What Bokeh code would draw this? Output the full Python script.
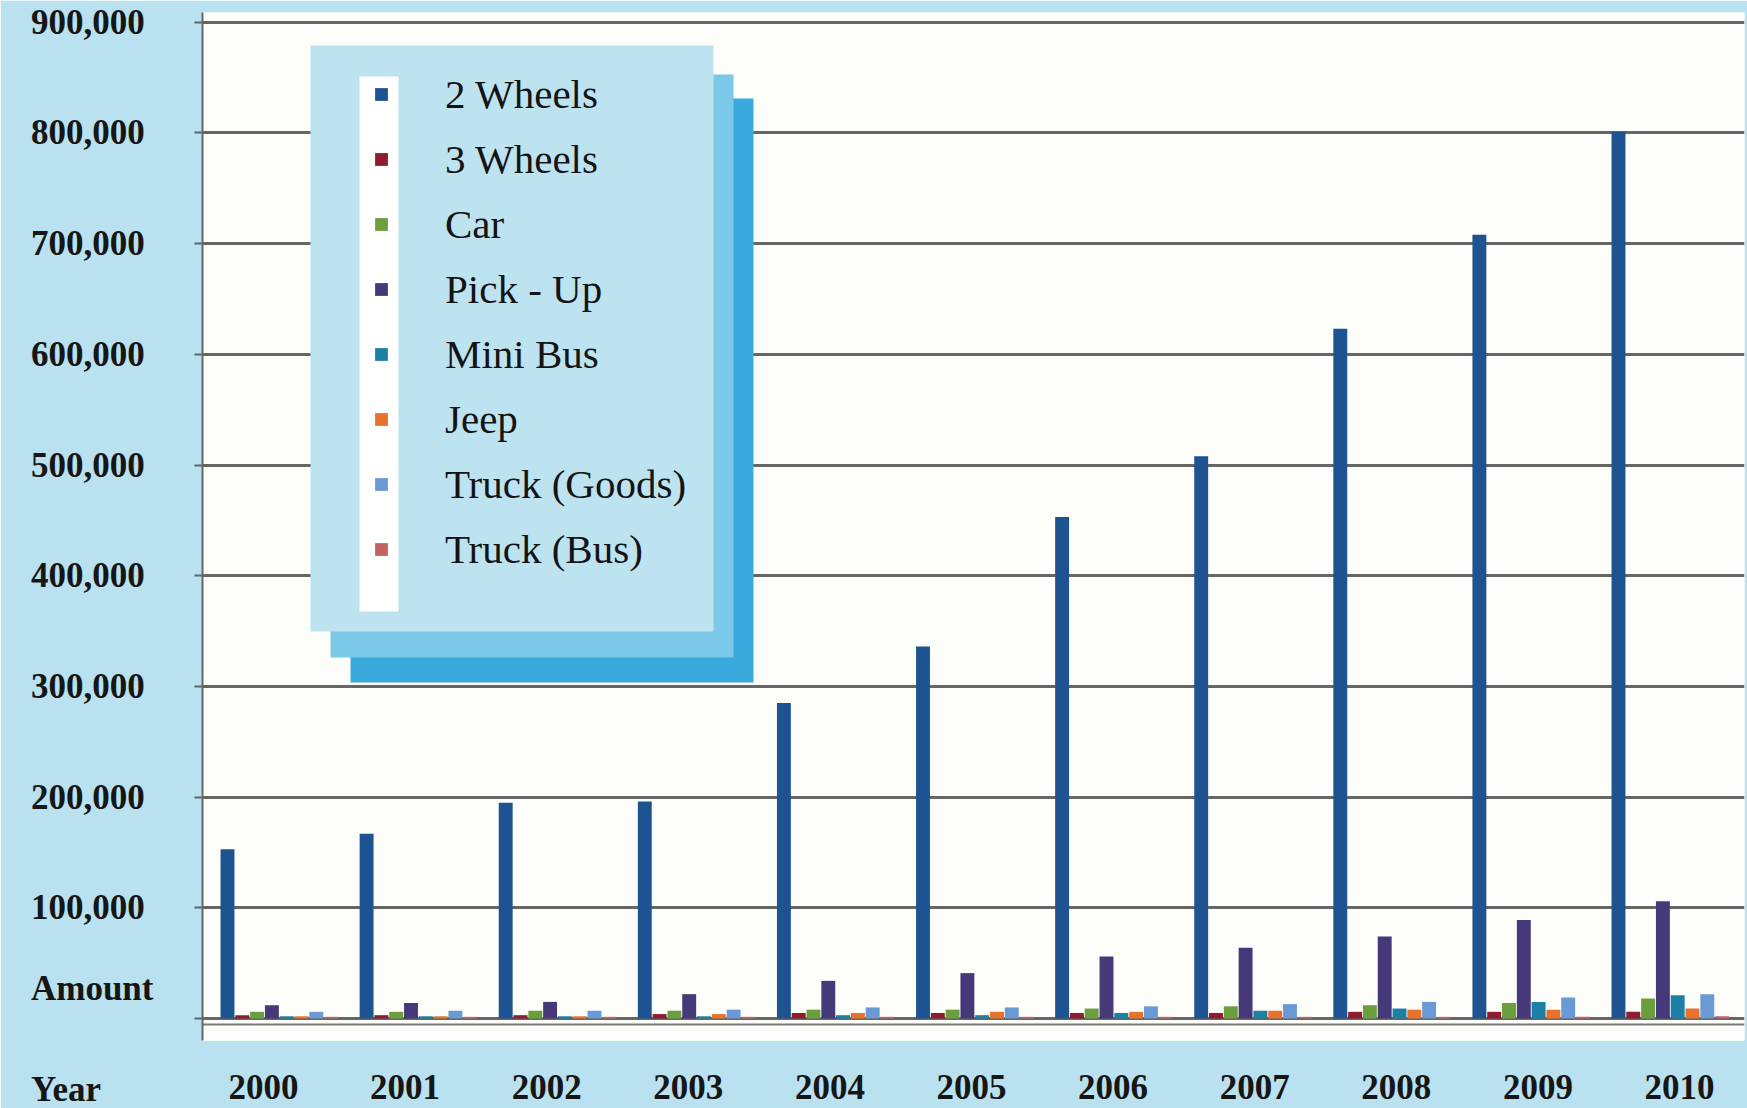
from bokeh.plotting import figure
from bokeh.models import (Range1d, LinearAxis, FixedTicker, Legend, LegendItem, BoxAnnotation, Span)
from bokeh.embed import file_html
from bokeh.resources import INLINE

# ---------------- data ----------------
years = ["2000", "2001", "2002", "2003", "2004", "2005", "2006", "2007", "2008", "2009", "2010"]
series_names = ["2 Wheels", "3 Wheels", "Car", "Pick - Up", "Mini Bus", "Jeep", "Truck (Goods)", "Truck (Bus)"]
two_wheels = [153000, 167000, 195000, 196000, 285000, 336000, 453000, 508000, 623000, 708000, 801000]
three_wheels = [3000, 3000, 3000, 4000, 5000, 5000, 5000, 5000, 6000, 6000, 6000]
car = [6000, 6000, 7000, 7000, 8000, 8000, 9000, 11000, 12000, 14000, 18000]
pick_up = [12000, 14000, 15000, 22000, 34000, 41000, 56000, 64000, 74000, 89000, 106000]
mini_bus = [2000, 2000, 2000, 2000, 3000, 3000, 5000, 7000, 9000, 15000, 21000]
jeep = [2000, 2000, 2000, 4000, 5000, 6000, 6000, 7000, 8000, 8000, 9000]
truck_goods = [6000, 7000, 7000, 8000, 10000, 10000, 11000, 13000, 15000, 19000, 22000]
truck_bus = [1500, 1500, 1500, 1500, 1500, 1500, 1500, 1500, 1500, 1500, 2000]
y_ticks = [0, 100000, 200000, 300000, 400000, 500000, 600000, 700000, 800000, 900000]
y_title = "Amount"
x_title = "Year"

series_values = [two_wheels, three_wheels, car, pick_up, mini_bus, jeep, truck_goods, truck_bus]
colors = ["#1d5390", "#8e1b2e", "#6b9e3c", "#45397a", "#1b7fa6", "#e8722c", "#6a9ad6", "#c26262"]

# ---------------- layout (canvas pixels) ----------------
W, H = 1747, 1108
FL, FR, FT, FB = 202, 1744, 12, 1040   # frame left / right / top / bottom
PX_GROUP = 139.1                       # px per year group
GROUP0 = 278.8                         # canvas x of first group centre
ZERO_Y = 1018.0                        # canvas y of value 0
PX_UNIT = 1.107 / 1000.0               # px per unit of value
LAB0, LAB_STEP = 263.0, 141.6          # year label centres (perspective)

x_start = (FL - GROUP0) / PX_GROUP
x_end = (FR - GROUP0) / PX_GROUP
y_end = (ZERO_Y - FT) / PX_UNIT
y_start = -(FB - ZERO_Y) / PX_UNIT


def dx(px):
    return (px - GROUP0) / PX_GROUP


def dy(py):
    return (ZERO_Y - py) / PX_UNIT


BG = "#b9e1ef"
GRID = "#666666"
SERIF = "Liberation Serif"
INK = "#161616"
NBSP = "\u00a0"

p = figure(width=W, height=H, x_range=Range1d(x_start, x_end), y_range=Range1d(y_start, y_end),
           output_backend="svg", toolbar_location=None, x_axis_type=None)
p.min_border_left = FL
p.min_border_right = W - FR
p.min_border_top = FT
p.min_border_bottom = H - FB
p.border_fill_color = BG
p.background_fill_color = "#fdfdf9"
p.outline_line_color = None

# y axis; the zero tick carries the "Amount" / "Year" captions of the original
yax = p.yaxis[0]
yax.ticker = FixedTicker(ticks=y_ticks)
tick_labels = {v: f"{v:,}" + NBSP for v in y_ticks}
tick_labels[0] = "\n" + y_title + "\n\n" + x_title + NBSP * 6
yax.major_label_overrides = tick_labels
yax.axis_line_color = GRID
yax.axis_line_width = 2
yax.major_tick_out = 8
yax.major_tick_in = 0
yax.major_tick_line_color = GRID
yax.major_tick_line_width = 2
yax.minor_tick_line_color = None
yax.major_label_standoff = 41
yax.major_label_text_font = SERIF
yax.major_label_text_font_style = "bold"
yax.major_label_text_font_size = "35px"
yax.major_label_text_line_height = 1.29
yax.major_label_text_color = INK

p.ygrid.grid_line_color = GRID
p.ygrid.grid_line_width = 3
for g in p.xgrid:
    g.visible = False

# front edge of the floor
p.add_layout(Span(location=dy(1024), dimension="width", line_color="#7a7a7a", line_width=2,
                  level="underlay"))

# x (year) axis on its own range to follow the perspective label positions
p.extra_x_ranges = {"labels": Range1d((FL - LAB0) / LAB_STEP, (FR - LAB0) / LAB_STEP)}
xax = LinearAxis(x_range_name="labels", ticker=FixedTicker(ticks=list(range(len(years)))),
                 major_label_overrides={i: y for i, y in enumerate(years)})
xax.axis_line_color = None
xax.major_tick_line_color = None
xax.minor_tick_line_color = None
xax.major_label_standoff = 28
xax.major_label_text_font = SERIF
xax.major_label_text_font_style = "bold"
xax.major_label_text_font_size = "35px"
xax.major_label_text_color = INK
p.add_layout(xax, "below")

# bars
n = len(series_names)
pitch = 0.1064
renderers = []
for j, (name, vals, col) in enumerate(zip(series_names, series_values, colors)):
    xs = [i + (j - (n - 1) / 2) * pitch for i in range(len(years))]
    r = p.vbar(x=xs, top=vals, bottom=0, width=0.1, fill_color=col, line_color=None)
    renderers.append(r)


# legend panel with stacked shadows
def box(l, r, t, b, color):
    p.add_layout(BoxAnnotation(left=dx(l), right=dx(r), top=dy(t), bottom=dy(b),
                               fill_color=color, fill_alpha=1.0, line_color=None))


box(350, 753, 98, 682, "#3aa9de")
box(330, 733, 74, 657, "#7cc8e8")
box(310, 713, 45, 631, "#bde3f1")
box(359, 398, 76, 611, "#ffffff")

legend = Legend(items=[LegendItem(label=nm, renderers=[r]) for nm, r in zip(series_names, renderers)],
                location=(373 - FL, FB - 581), orientation="vertical")
legend.background_fill_alpha = 0
legend.border_line_color = None
legend.padding = 0
legend.margin = 0
legend.spacing = 0
legend.label_height = 65
legend.glyph_height = 16
legend.glyph_width = 16
legend.label_standoff = 56
legend.label_text_font = SERIF
legend.label_text_font_size = "41px"
legend.label_text_color = "#141414"
p.add_layout(legend, "center")

open("out.html", "w").write(file_html(p, INLINE))
